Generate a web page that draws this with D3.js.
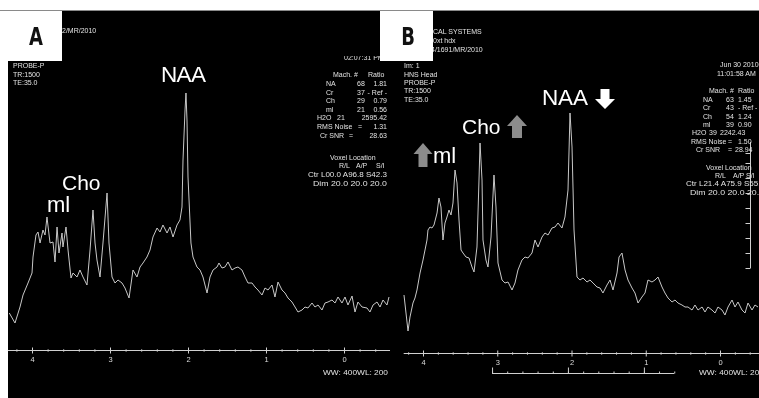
<!DOCTYPE html>
<html><head><meta charset="utf-8">
<script src="https://cdn.jsdelivr.net/npm/d3@7/dist/d3.min.js"></script>
<style>
body{margin:0;background:#fff;}
svg{display:block;filter:grayscale(100%);}
.sm{font-family:"Liberation Sans",Arial,sans-serif;font-size:7px;fill:#e2e2e2;}
.big{font-family:"Liberation Sans",Arial,sans-serif;fill:#fff;}
.ax text{font-family:"Liberation Sans",Arial,sans-serif;font-size:7.5px;fill:#dcdcdc;}
.ax line{stroke:#d0d0d0;}
.ax path{display:none;}
</style>
</head><body>
<svg id="c" width="759" height="398"></svg>
<script>
// ---- data ----
const ppmA = [4.291,4.218,4.154,4.115,4.051,4.000,3.987,3.949,3.923,3.897,
3.859,3.833,3.808,3.769,3.731,3.705,3.679,3.654,3.615,3.603,
3.564,3.538,3.500,3.474,3.423,3.385,3.346,3.295,3.256,3.218,
3.192,3.167,3.128,3.090,3.038,3.013,2.974,2.936,2.897,2.846,
2.808,2.756,2.705,2.654,2.615,2.577,2.526,2.487,2.449,2.397,
2.359,2.321,2.269,2.231,2.192,2.141,2.103,2.077,2.064,2.038,
2.026,2.013,2.000,1.962,1.936,1.885,1.846,1.808,1.756,1.718,
1.679,1.628,1.603,1.564,1.526,1.487,1.436,1.397,1.359,1.308,
1.269,1.231,1.179,1.141,1.103,1.051,1.013,0.974,0.923,0.885,
0.846,0.795,0.756,0.718,0.667,0.628,0.590,0.538,0.500,0.462,
0.410,0.372,0.333,0.282,0.244,0.205,0.154,0.115,0.077,0.026,
-0.013,-0.051,-0.103,-0.141,-0.179,-0.231,-0.295,-0.333,-0.372,-0.423,
-0.462,-0.500,-0.551,-0.577];
const ampA = [37,27,43,55,67,77,93,115,118,107,
120,115,133,107,108,88,123,97,117,103,
123,100,72,77,73,80,73,65,100,140,
107,90,73,107,157,107,73,67,70,67,
62,52,80,73,83,87,93,100,113,122,
118,125,117,123,113,125,130,143,190,240,
257,230,173,107,93,83,80,73,57,73,
80,83,87,82,83,88,80,82,83,80,
73,67,67,63,60,55,62,60,65,53,
68,60,57,52,48,43,38,40,43,42,
47,43,45,40,47,48,50,47,53,47,
53,45,54,38,48,43,42,38,45,48,
43,50,45,53];
const ppmB = [4.256,4.202,4.175,4.135,4.108,4.081,4.040,4.000,3.973,3.946,
3.933,3.906,3.879,3.852,3.811,3.785,3.758,3.731,3.704,3.677,
3.650,3.623,3.596,3.569,3.542,3.515,3.488,3.461,3.421,3.380,
3.340,3.313,3.273,3.246,3.232,3.205,3.192,3.152,3.125,3.084,
3.044,3.017,2.990,2.936,2.896,2.855,2.801,2.761,2.721,2.667,
2.626,2.586,2.532,2.492,2.451,2.397,2.357,2.316,2.263,2.222,
2.182,2.128,2.088,2.047,2.020,1.993,1.966,1.926,1.886,1.845,
1.791,1.751,1.710,1.657,1.616,1.576,1.522,1.481,1.441,1.387,
1.360,1.320,1.279,1.239,1.185,1.145,1.104,1.051,1.010,0.970,
0.916,0.875,0.835,0.781,0.741,0.700,0.646,0.606,0.566,0.512,
0.471,0.431,0.377,0.337,0.296,0.242,0.202,0.162,0.108,0.067,
0.027,-0.027,-0.067,-0.108,-0.162,-0.202,-0.242,-0.296,-0.337,-0.377,
-0.431,-0.471,-0.512];
const ampB = [58,22,36,50,55,63,80,93,103,113,
123,126,125,128,140,155,146,113,130,136,
143,138,150,183,170,133,103,100,96,95,
86,81,106,173,210,173,113,93,86,116,
178,146,90,73,70,71,63,70,83,93,
96,95,100,113,106,116,120,118,125,126,
130,125,136,163,240,206,123,76,73,75,
71,73,70,66,65,60,68,73,63,80,
96,100,83,73,65,60,50,56,60,73,
71,73,76,66,60,55,51,53,50,48,
46,46,43,48,43,46,41,46,43,40,
46,43,38,46,53,46,51,43,40,50,
43,48,46];

const majorTicks = [4,3,2,1,0];
const minorTicksA = [4.2,3.8,3.6,3.4,3.2,2.8,2.6,2.4,2.2,1.8,1.6,1.4,1.2,0.8,0.6,0.4,0.2,-0.2,-0.4];
const minorTicksB = [4.2,3.8,3.6,3.4,3.2,2.8,2.6,2.4,2.2,1.8,1.6,1.4,1.2,0.8,0.6,0.4,0.2,-0.2,-0.4];
const axisExtentA = [4.31,-0.59];
const axisExtentB = [4.26,-0.53];
const rulerTicks = [3.07,2.866,2.661,2.457,2.252,2.048,1.843,1.639,1.434,1.23,1.025,0.821,0.616];
const rulerMajor = [3.07,2.048,1.025];
const vRulerTicks = [85,100,115,130,145,160,175,190,200];
const vRulerExtent = [85,211];

const metabs = ["NA","Cr","Ch","ml"];
const machA = ["68","37","29","21"];
const ratioA = ["1.81","- Ref -","0.79","0.56"];
const machB = ["63","43","54","39"];
const ratioB = ["1.45","- Ref -","1.24","0.90"];

// ---- scales ----
const xA = d3.scaleLinear().domain([4,0]).range([32,344]);
const yA = d3.scaleLinear().domain([0,100]).range([350,250]);
const xB = d3.scaleLinear().domain([4,0]).range([423,720]);
const yB = d3.scaleLinear().domain([0,100]).range([353,253]);

const svg = d3.select("#c");
svg.append("rect").attr("width",759).attr("height",398).attr("fill","#fff");
svg.append("rect").attr("x",8).attr("y",10).attr("width",751).attr("height",388).attr("fill","#000");
svg.append("line").attr("x1",0).attr("x2",759).attr("y1",10.5).attr("y2",10.5).attr("stroke","#8a8a8a");

const defs = svg.append("defs");
defs.append("clipPath").attr("id","clipT").append("rect").attr("x",300).attr("y",56).attr("width",80).attr("height",10);

function txt(x,y,s,opt={}){
  const t = svg.append("text").attr("class","sm").attr("x",x).attr("y",y).text(s);
  if(opt.anchor) t.attr("text-anchor",opt.anchor);
  if(opt.len) t.attr("textLength",opt.len).attr("lengthAdjust","spacingAndGlyphs");
  if(opt.clip) t.attr("clip-path",opt.clip);
  return t;
}

// ---- spectra ----
const lineA = d3.line().x((d,i)=>xA(ppmA[i])).y(d=>yA(d)).curve(d3.curveLinear);
const lineB = d3.line().x((d,i)=>xB(ppmB[i])).y(d=>yB(d)).curve(d3.curveLinear);
svg.append("path").attr("d",lineA(ampA)).attr("fill","none").attr("stroke","#c8c8c8").attr("stroke-width",1);
svg.append("path").attr("d",lineB(ampB)).attr("fill","none").attr("stroke","#c8c8c8").attr("stroke-width",1);

// ---- axes ----
function drawAxis(x, y0, ext, minor){
  svg.append("line").attr("x1",x(ext[0])).attr("x2",x(ext[1])).attr("y1",y0+0.5).attr("y2",y0+0.5).attr("stroke","#d0d0d0");
  svg.append("g").attr("class","ax").attr("transform",`translate(0,${y0+0.5})`)
    .call(d3.axisBottom(x).tickValues(majorTicks).tickSize(3).tickPadding(3).tickFormat(d3.format("d")));
  svg.append("g").attr("class","ax").attr("transform",`translate(0,${y0+0.5})`)
    .call(d3.axisBottom(x).tickValues(majorTicks).tickSize(-3).tickFormat(""));
  svg.append("g").attr("class","ax").attr("transform",`translate(0,${y0+0.5})`)
    .call(d3.axisBottom(x).tickValues(minor).tickSize(1.2).tickFormat(""));
  svg.append("g").attr("class","ax").attr("transform",`translate(0,${y0+0.5})`)
    .call(d3.axisBottom(x).tickValues(minor).tickSize(-1.2).tickFormat(""));
}
drawAxis(xA,350,axisExtentA,minorTicksA);
drawAxis(xB,353,axisExtentB,minorTicksB);

// bracket ruler under B
svg.append("line").attr("x1",xB(rulerTicks[0])).attr("x2",xB(rulerTicks[rulerTicks.length-1]))
  .attr("y1",373.5).attr("y2",373.5).attr("stroke","#d0d0d0");
svg.append("g").attr("class","ax").attr("transform","translate(0,373.5)")
  .call(d3.axisTop(xB).tickValues(rulerTicks).tickSize(2).tickFormat(""));
svg.append("g").attr("class","ax").attr("transform","translate(0,373.5)")
  .call(d3.axisTop(xB).tickValues(rulerMajor).tickSize(6).tickFormat(""));

// vertical ruler in B
svg.append("line").attr("x1",750.5).attr("x2",750.5).attr("y1",yB(vRulerExtent[0])).attr("y2",yB(vRulerExtent[1])).attr("stroke","#d0d0d0");
svg.append("g").attr("class","ax").attr("transform","translate(750.5,0)")
  .call(d3.axisLeft(yB).tickValues(vRulerTicks).tickSize(5).tickFormat(""));

// ---- panel A texts ----
txt(62,33,"2/MR/2010");
txt(13,68,"PROBE-P"); txt(13,76.5,"TR:1500"); txt(13,85,"TE:35.0");
txt(344,60,"02:07:31 PM",{clip:"url(#clipT)"});
txt(333,77,"Mach. #"); txt(368,77,"Ratio");
metabs.forEach((m,i)=>{
  const by = [86,94.5,103,111.5][i];
  txt(326,by,m); txt(357,by,machA[i]); txt(387,by,ratioA[i],{anchor:"end"});
});
txt(317,120,"H2O"); txt(337,120,"21"); txt(387,120,"2595.42",{anchor:"end"});
txt(317,129,"RMS Noise"); txt(358,129,"="); txt(387,129,"1.31",{anchor:"end"});
txt(320,138,"Cr SNR"); txt(349,138,"="); txt(387,138,"28.63",{anchor:"end"});
txt(330,160,"Voxel Location");
txt(339,168,"R/L"); txt(356,168,"A/P"); txt(376,168,"S/I");
txt(308,177,"Ctr L00.0 A96.8 S42.3",{len:79});
txt(313,186,"Dim  20.0   20.0   20.0",{len:74});
txt(323,375,"WW: 400WL: 200",{len:65});

// ---- panel B texts ----
txt(433,34,"CAL SYSTEMS"); txt(433,43,"0xt hdx"); txt(431,51.5,"4/1691/MR/2010");
txt(404,68,"Im: 1"); txt(404,76.5,"HNS Head"); txt(404,84.5,"PROBE-P"); txt(404,93,"TR:1500"); txt(404,101.5,"TE:35.0");
txt(720,67,"Jun 30 2010"); txt(717,76,"11:01:58 AM");
txt(709,93,"Mach. #"); txt(738,93,"Ratio");
metabs.forEach((m,i)=>{
  const by = [102,110,118.5,127][i];
  txt(703,by,m); txt(726,by,machB[i]); txt(738,by,ratioB[i]);
});
txt(692,135,"H2O"); txt(709,135,"39"); txt(720,135,"2242.43");
txt(691,143.5,"RMS Noise"); txt(728,143.5,"="); txt(738,143.5,"1.50");
txt(696,152,"Cr SNR"); txt(728,152,"="); txt(735,152,"28.94");
txt(706,170,"Voxel Location");
txt(715,177.5,"R/L"); txt(733,177.5,"A/P"); txt(746,177.5,"S/I");
txt(686,186,"Ctr L21.4 A75.9 S55.7",{len:79});
txt(690,194.5,"Dim  20.0   20.0   20.0",{len:74});
txt(699,375,"WW: 400WL: 200",{len:65});

// ---- metabolite labels ----
svg.append("text").attr("class","big").attr("x",161).attr("y",82).attr("font-size",22.5).attr("textLength",45).text("NAA");
svg.append("text").attr("class","big").attr("x",62).attr("y",190).attr("font-size",21).text("Cho");
svg.append("text").attr("class","big").attr("x",47).attr("y",212).attr("font-size",22).text("ml");

svg.append("text").attr("class","big").attr("x",542).attr("y",105).attr("font-size",22.5).attr("textLength",46).text("NAA");
svg.append("text").attr("class","big").attr("x",462).attr("y",134).attr("font-size",21).text("Cho");
svg.append("text").attr("class","big").attr("x",433).attr("y",163).attr("font-size",22).text("ml");

// arrows
function arrow(cx, top, bottom, headW, shaftW, headLen, up, fill){
  let pts;
  if(up){
    pts = [[cx,top],[cx+headW/2,top+headLen],[cx+shaftW/2,top+headLen],[cx+shaftW/2,bottom],
           [cx-shaftW/2,bottom],[cx-shaftW/2,top+headLen],[cx-headW/2,top+headLen]];
  } else {
    pts = [[cx,bottom],[cx+headW/2,bottom-headLen],[cx+shaftW/2,bottom-headLen],[cx+shaftW/2,top],
           [cx-shaftW/2,top],[cx-shaftW/2,bottom-headLen],[cx-headW/2,bottom-headLen]];
  }
  svg.append("polygon").attr("points",pts.map(p=>p.join(",")).join(" ")).attr("fill",fill);
}
arrow(605,89,109,20,9,10,false,"#ffffff");
arrow(517,115,138,20,10,11,true,"#8c8c8c");
arrow(423,143,167,19,9,11,true,"#8c8c8c");

// ---- panel label boxes ----
svg.append("rect").attr("x",8).attr("y",11).attr("width",54).attr("height",50).attr("fill","#fff");
svg.append("rect").attr("x",380).attr("y",11).attr("width",53).attr("height",50).attr("fill","#fff");
svg.append("text").attr("transform","translate(36,45) scale(0.72,1)").attr("text-anchor","middle")
  .attr("font-family","'DejaVu Sans','Liberation Sans',sans-serif").attr("font-weight","bold").attr("font-size",25).attr("fill","#111").text("A");
svg.append("text").attr("transform","translate(408,45) scale(0.72,1)").attr("text-anchor","middle")
  .attr("font-family","'DejaVu Sans','Liberation Sans',sans-serif").attr("font-weight","bold").attr("font-size",25).attr("fill","#111").text("B");
</script>
</body></html>
